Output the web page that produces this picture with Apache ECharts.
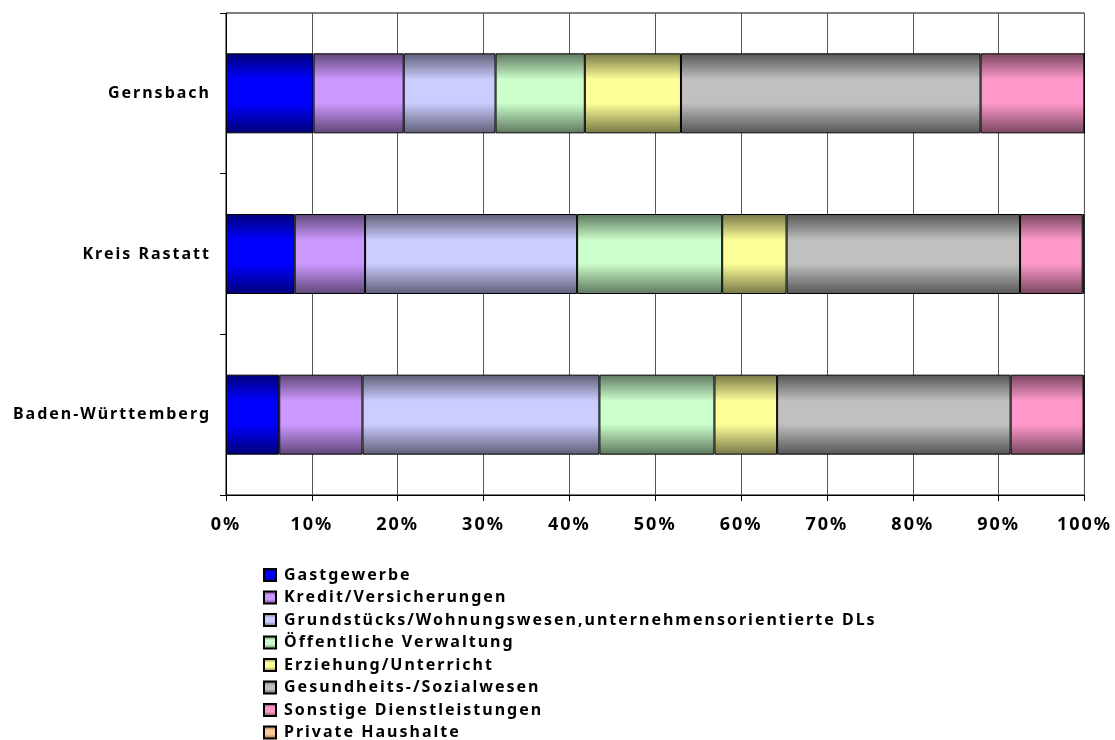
<!DOCTYPE html>
<html>
<head>
<meta charset="utf-8">
<script src="https://cdn.jsdelivr.net/npm/echarts@6/dist/echarts.min.js"></script>
<style>
  html, body { margin: 0; padding: 0; background: #fff; }
  #chart { width: 1115px; height: 740px; }
</style>
</head>
<body>
<div id="chart"></div>
<script>
// Regions (top to bottom) and sector shares in percent
const categories = ['Gernsbach', 'Kreis Rastatt', 'Baden-Württemberg'];
const seriesNames = [
  'Gastgewerbe',
  'Kredit/Versicherungen',
  'Grundstücks/Wohnungswesen,unternehmensorientierte DLs',
  'Öffentliche Verwaltung',
  'Erziehung/Unterricht',
  'Gesundheits-/Sozialwesen',
  'Sonstige Dienstleistungen',
  'Private Haushalte'
];
const gastgewerbe  = [10.2, 8.0, 6.2];
const kredit       = [10.5, 8.2, 9.7];
const grundstuecks = [10.7, 24.7, 27.6];
const verwaltung   = [10.4, 16.9, 13.4];
const erziehung    = [11.2, 7.5, 7.3];
const gesundheit   = [34.9, 27.2, 27.2];
const sonstige     = [12.1, 7.3, 8.5];
const haushalte    = [0.0, 0.2, 0.1];
const xTicks = [0, 10, 20, 30, 40, 50, 60, 70, 80, 90, 100];

const seriesData = [gastgewerbe, kredit, grundstuecks, verwaltung, erziehung, gesundheit, sonstige, haushalte];

// Edge / centre colours of each cylinder-shaded bar
const shades = [
  ['#000078', '#0000ff'],
  ['#5e4677', '#cc99ff'],
  ['#5e5e77', '#ccccff'],
  ['#5e775e', '#ccffcc'],
  ['#777746', '#ffff99'],
  ['#555555', '#c0c0c0'],
  ['#77465e', '#ff99cc'],
  ['#775e46', '#ffcc99']
];

// Tracked (letter-spaced) text for all canvas labels
const TRACKING = '2px';
const ctxProto = CanvasRenderingContext2D.prototype;
const baseFillText = ctxProto.fillText;
const baseMeasureText = ctxProto.measureText;
ctxProto.fillText = function () { this.letterSpacing = TRACKING; return baseFillText.apply(this, arguments); };
ctxProto.measureText = function () { this.letterSpacing = TRACKING; return baseMeasureText.apply(this, arguments); };

const FONT = '"Noto Sans", "DejaVu Sans", sans-serif';

function shade(i) {
  const [edge, mid] = shades[i];
  return new echarts.graphic.LinearGradient(0, 0, 0, 1, [
    { offset: 0, color: edge },
    { offset: 0.33, color: mid },
    { offset: 0.62, color: mid },
    { offset: 1, color: edge }
  ]);
}

const chart = echarts.init(document.getElementById('chart'), null, { renderer: 'canvas' });

chart.setOption({
  animation: false,
  backgroundColor: '#ffffff',
  grid: {
    left: 226, right: 29, top: 13, bottom: 245,
    show: true, borderColor: '#000', borderWidth: 1, backgroundColor: 'transparent'
  },
  legend: {
    orient: 'vertical',
    left: 263,
    top: 566,
    height: 220,
    padding: 0,
    itemWidth: 12,
    itemHeight: 12,
    itemGap: 4.5,
    icon: 'rect',
    data: seriesNames,
    textStyle: {
      fontFamily: FONT, fontWeight: 'bold', fontSize: 16, lineHeight: 16,
      color: '#000', padding: [0, 0, 0, 3]
    }
  },
  xAxis: {
    type: 'value',
    min: xTicks[0],
    max: xTicks[xTicks.length - 1],
    interval: xTicks[1] - xTicks[0],
    axisLine: { show: true, lineStyle: { color: '#000', width: 1 } },
    axisTick: { show: true, length: 6, lineStyle: { color: '#000' } },
    axisLabel: {
      formatter: '{value}%',
      margin: 20,
      fontFamily: FONT, fontWeight: 'bold', fontSize: 18, color: '#000'
    },
    splitLine: { show: true, lineStyle: { color: '#555', width: 1 } }
  },
  yAxis: {
    type: 'category',
    inverse: true,
    data: categories,
    axisLine: { show: true, lineStyle: { color: '#000', width: 1 } },
    axisTick: { show: true, length: 6, lineStyle: { color: '#000' } },
    axisLabel: { margin: 15, fontFamily: FONT, fontWeight: 'bold', fontSize: 16, color: '#000' },
    splitLine: { show: false }
  },
  series: seriesNames.map((name, i) => ({
    name,
    type: 'bar',
    stack: 'total',
    barWidth: 80,
    data: seriesData[i],
    itemStyle: { color: shade(i), borderColor: '#000', borderWidth: 1 },
    emphasis: { disabled: true }
  }))
});
</script>
</body>
</html>
